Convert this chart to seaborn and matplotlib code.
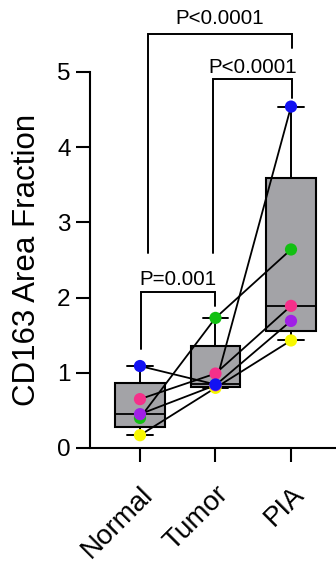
import numpy as np
import pandas as pd
import matplotlib
matplotlib.use("Agg")
import matplotlib.pyplot as plt
import seaborn as sns

# ---- data ----
categories = ["Normal", "Tumor", "PIA"]
subjects = ["green", "yellow", "purple", "pink", "blue"]
subject_colors = ["#12c012", "#f7f700", "#a020e6", "#f5308a", "#1212f2"]
normal_vals = [0.40, 0.17, 0.45, 0.65, 1.09]
tumor_vals = [1.73, 0.80, 0.835, 0.99, 0.845]
pia_vals = [2.64, 1.43, 1.69, 1.89, 4.54]
ytick_vals = [0, 1, 2, 3, 4, 5]
ylabel = "CD163 Area Fraction"
comparisons = [("Normal", "Tumor", "P=0.001"),
               ("Tumor", "PIA", "P<0.0001"),
               ("Normal", "PIA", "P<0.0001")]

sns.set_style("ticks")
plt.rcParams["font.family"] = ["Liberation Sans", "DejaVu Sans"]
plt.rcParams.update({"text.color": "black", "axes.labelcolor": "black",
                     "xtick.color": "black", "ytick.color": "black",
                     "axes.edgecolor": "black"})

rows = []
for cat, vals in zip(categories, [normal_vals, tumor_vals, pia_vals]):
    for s, v in zip(subjects, vals):
        rows.append({"group": cat, "pos": categories.index(cat), "subject": s, "value": v})
df = pd.DataFrame(rows)
palette = dict(zip(subjects, subject_colors))

fig = plt.figure(figsize=(3.36, 5.62), dpi=100)
ax = fig.add_axes([90 / 336, (562 - 448) / 562, 1 - 90 / 336, 448 / 562])

# connecting lines
sns.lineplot(data=df, x="pos", y="value", units="subject", estimator=None,
             color="black", linewidth=1.3, ax=ax, zorder=2, legend=False)

# points
sns.stripplot(data=df, x="pos", y="value", hue="subject", hue_order=subjects,
              palette=palette, jitter=False, size=8.8, linewidth=0,
              native_scale=True, ax=ax, zorder=3, legend=False)

# boxes with Prism-style quartiles
stats = []
for cat in categories:
    v = df.loc[df.group == cat, "value"].to_numpy()
    q1, med, q3 = np.percentile(v, [25, 50, 75], method="weibull")
    stats.append(dict(med=med, q1=q1, q3=q3, whislo=v.min(), whishi=v.max(), fliers=[]))
ax.bxp(stats, positions=range(len(categories)), widths=0.65, capwidths=0.34,
       patch_artist=True, showfliers=False, manage_ticks=False,
       boxprops=dict(facecolor="#a3a3a7", edgecolor="black", linewidth=1.5),
       medianprops=dict(color="black", linewidth=1.3),
       whiskerprops=dict(color="black", linewidth=1.4),
       capprops=dict(color="black", linewidth=1.4), zorder=1)

# significance brackets
bracket_specs = [
    # x_left, x_right, y_top, y_left_bottom, y_right_bottom, text_y
    (0.01, 1.0, 2.07, 1.32, 1.89, 2.17),
    (0.97, 2.01, 4.91, 2.59, 4.65, 4.99),
    (0.106, 2.01, 5.50, 2.59, 5.32, 5.64),
]
for (c1, c2, txt), (xl, xr, yt, ylb, yrb, ty) in zip(comparisons, bracket_specs):
    ax.plot([xl, xl, xr, xr], [ylb, yt, yt, yrb], color="black", lw=1.4,
            solid_joinstyle="miter", clip_on=False)
    ax.text((xl + xr) / 2, ty, txt, ha="center", va="baseline", fontsize=14.8,
            color="black")

ax.set_xlim(-0.662, 2.596)
ax.set_ylim(0, 448 / 75.2)
ax.set_yticks(ytick_vals)
ax.set_yticklabels([str(t) for t in ytick_vals], fontsize=17.5)
ax.set_xticks(range(len(categories)))
ax.set_xticklabels(categories, fontsize=20, rotation=45, ha="right",
                   rotation_mode="anchor")
ax.set_xlabel("")
ax.set_ylabel(ylabel, fontsize=22.5)
ax.yaxis.set_label_coords(-62.5 / 246, (448 - 260) / 448)
ax.yaxis.label.set_verticalalignment("center")

ax.spines["top"].set_visible(False)
ax.spines["right"].set_visible(False)
ax.spines["left"].set_bounds(0, 5)
for sp in ["left", "bottom"]:
    ax.spines[sp].set_linewidth(1.5)
    ax.spines[sp].set_color("black")
ax.tick_params(axis="both", length=10, width=1.5, color="black", labelcolor="black")
ax.tick_params(axis="y", pad=4)
ax.tick_params(axis="x", pad=14)

fig.savefig("out.png", dpi=100)
